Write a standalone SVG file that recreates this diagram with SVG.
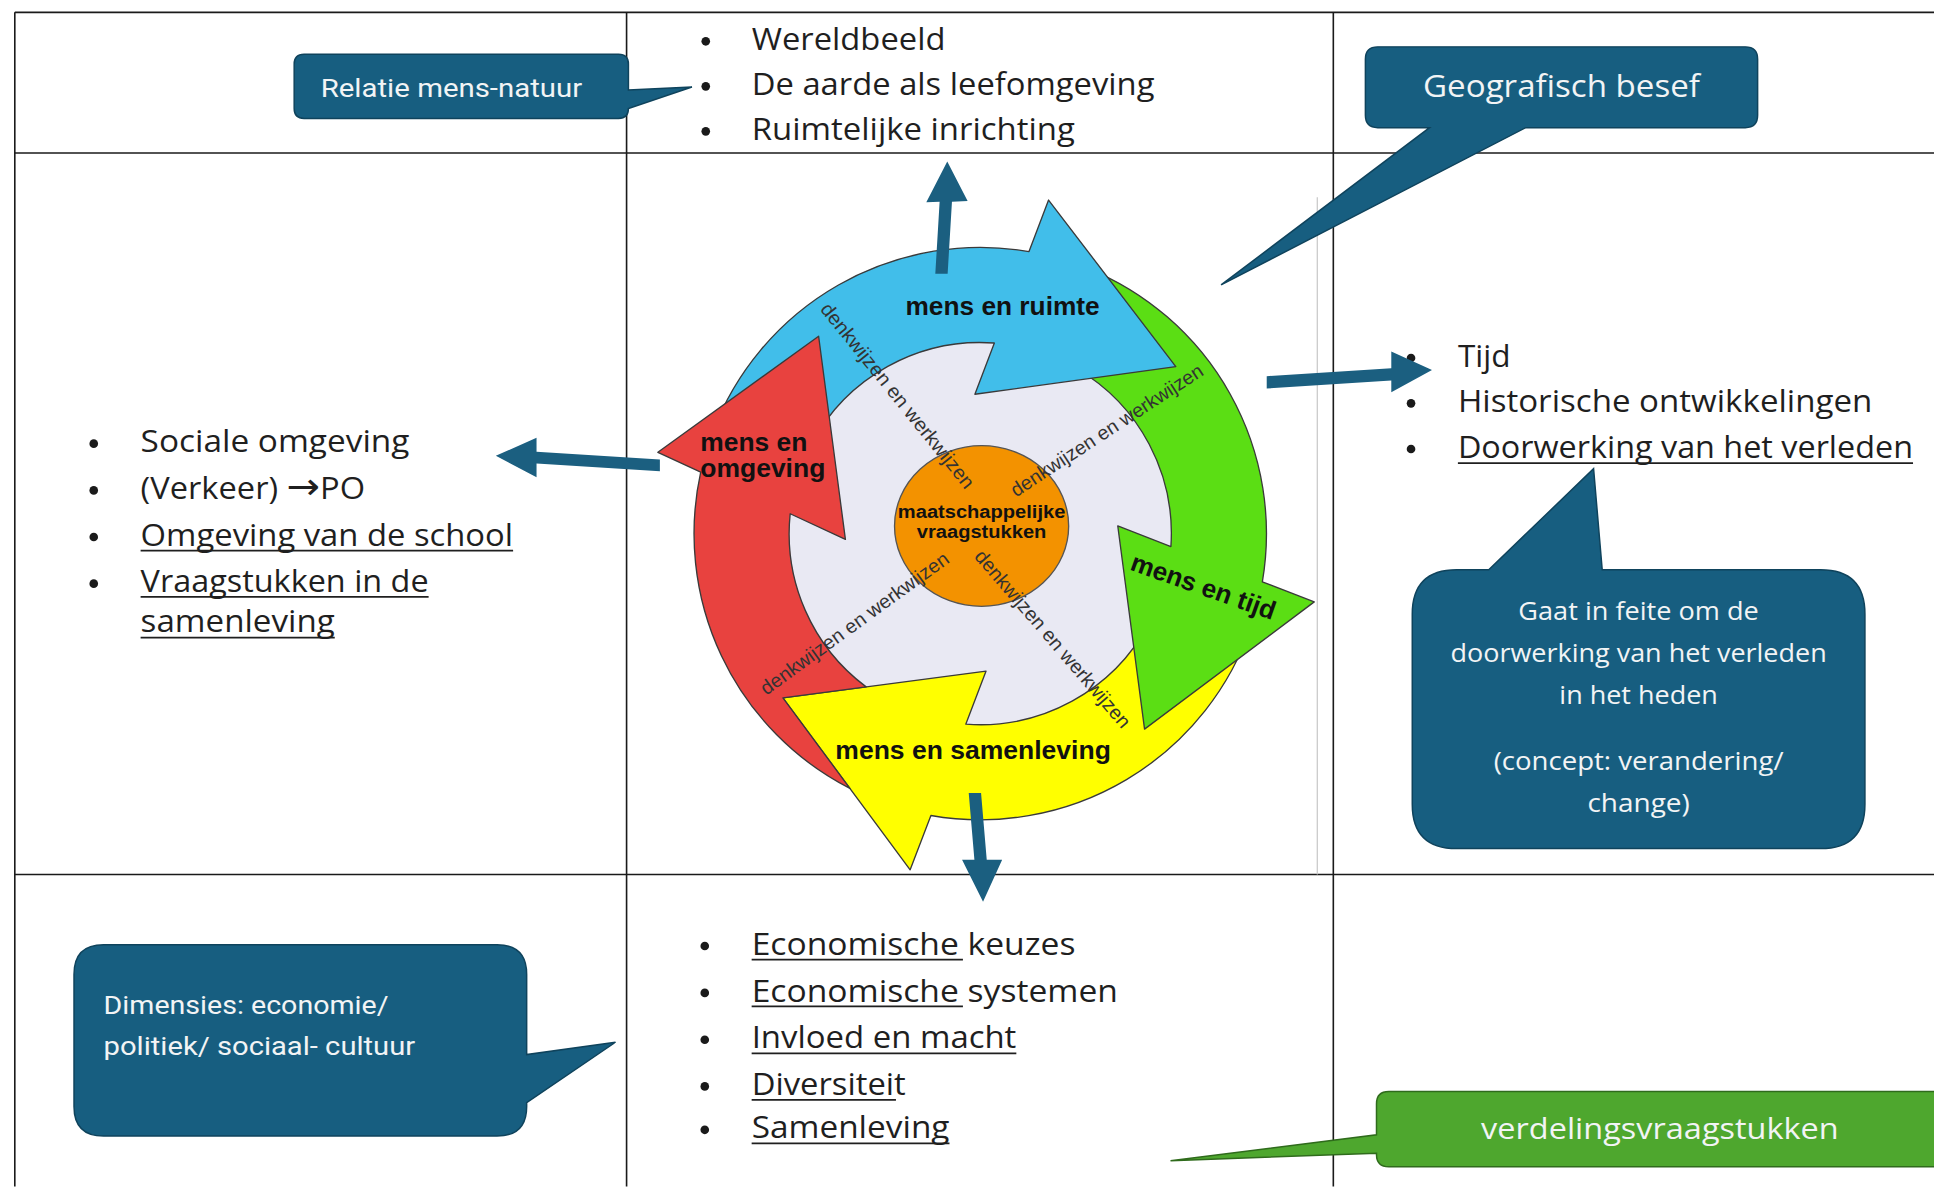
<svg xmlns="http://www.w3.org/2000/svg" width="1934" height="1187" viewBox="0 0 1934 1187">
<style>
.tl{stroke:#1a1a1a;stroke-width:1.3;fill:none}
.grey{stroke:#c8c8c8;stroke-width:1;fill:none}
.body{font-family:'Open Sans','Liberation Sans',sans-serif;font-size:24.5px;fill:#1f1f1f}
.ul{stroke:#1f1f1f;stroke-width:1.4}
.bul{fill:#1a1a1a}
.co{fill:#175E80;stroke:#0F435C;stroke-width:1.2}
.cog{fill:#4EA72E;stroke:#2F6B1C;stroke-width:1.2}
.cot{font-family:'Open Sans','Liberation Sans',sans-serif;fill:#F2F4F5}
.cond{font-family:Roboto,'Liberation Sans',sans-serif;fill:#F2F4F5;font-size:21px}
.arr{stroke:#3a3a3a;stroke-width:3;stroke-linejoin:round}
.ttl{font-family:'Liberation Sans',Arial,sans-serif;font-weight:bold;font-size:58px;fill:#111}
.dw{font-family:'Liberation Sans',Arial,sans-serif;font-size:44px;fill:#333}
.conn{fill:#1B5F80}
</style>
<rect width="1934" height="1187" fill="#ffffff"/>
<g transform="scale(1.23342)">
<g id="table">
<line class="tl" x1="12" y1="10" x2="1568" y2="10"/>
<line class="tl" x1="12" y1="124" x2="1568" y2="124"/>
<line class="tl" x1="12" y1="709" x2="1568" y2="709"/>
<line class="tl" x1="12" y1="10" x2="12" y2="962"/>
<line class="tl" x1="508" y1="10" x2="508" y2="962"/>
<line class="tl" x1="1081" y1="10" x2="1081" y2="962"/>
<line class="grey" x1="1068" y1="160" x2="1068" y2="709"/>
</g>

<g id="cycle" transform="translate(518.9,145.9) scale(0.362)">
<circle cx="762" cy="792" r="432" fill="#E9E9F3"/>
<path id="arrow-samenleving" class="arr" fill="#FFFF00" d="M1369.5,996.5 A641,641 0 0 1 651.5,1423.4 L605,1545 L320,1160 L775,1100 L729.6,1218.8 A428,428 0 0 0 1139.2,994.3 Z"/>
<path id="arrow-tijd" class="arr" fill="#5BDE14" d="M1001.1,197.3 A641,641 0 0 1 1393.8,900.1 L1510,945 L1130,1230 L1070,775 L1189,821 A428,428 0 0 0 978.6,422.8 Z"/>
<path id="arrow-ruimte" class="arr" fill="#41BEEA" d="M162.8,564.4 A641,641 0 0 1 871.2,160.4 L915,45 L1200,418 L750,480 L793.6,365.2 A428,428 0 0 0 383.7,591.7 Z"/>
<path id="arrow-omgeving" class="arr" fill="#E8423F" d="M470,1362.6 A641,641 0 0 1 135.9,654.5 L40,610 L400,350 L460,805 L336.3,747.6 A428,428 0 0 0 506.5,1135.4 L320,1160 Z"/>
<ellipse cx="765" cy="775" rx="195" ry="180" fill="#F39200" stroke="#555" stroke-width="3"/>
<text class="dw" x="577.5" y="482.5" text-anchor="middle" dominant-baseline="central" transform="rotate(51.1 577.5 482.5)" textLength="520" lengthAdjust="spacingAndGlyphs">denkwijzen en werkwijzen</text>
<text class="dw" x="1045" y="560" text-anchor="middle" dominant-baseline="central" transform="rotate(-33.1 1045 560)" textLength="505" lengthAdjust="spacingAndGlyphs">denkwijzen en werkwijzen</text>
<text class="dw" x="480" y="992.5" text-anchor="middle" dominant-baseline="central" transform="rotate(-36 480 992.5)" textLength="510" lengthAdjust="spacingAndGlyphs">denkwijzen en werkwijzen</text>
<text class="dw" x="925" y="1027.5" text-anchor="middle" dominant-baseline="central" transform="rotate(49.3 925 1027.5)" textLength="510" lengthAdjust="spacingAndGlyphs">denkwijzen en werkwijzen</text>
<text class="ttl" x="812" y="302" text-anchor="middle" textLength="435" lengthAdjust="spacingAndGlyphs">mens en ruimte</text>
<text class="ttl" x="135" y="607" textLength="240" lengthAdjust="spacingAndGlyphs">mens en</text>
<text class="ttl" x="135" y="665" textLength="280" lengthAdjust="spacingAndGlyphs">omgeving</text>
<text class="ttl" x="1262" y="910" text-anchor="middle" dominant-baseline="central" transform="rotate(19.5 1262 910)" textLength="340" lengthAdjust="spacingAndGlyphs">mens en tijd</text>
<text class="ttl" x="746" y="1296" text-anchor="middle" textLength="617" lengthAdjust="spacingAndGlyphs">mens en samenleving</text>
<text class="ttl" x="765" y="758" text-anchor="middle" style="font-size:42px" textLength="375" lengthAdjust="spacingAndGlyphs">maatschappelijke</text>
<text class="ttl" x="765" y="803" text-anchor="middle" style="font-size:42px" textLength="290" lengthAdjust="spacingAndGlyphs">vraagstukken</text>
</g>

<g id="list-ruimte">
<circle class="bul" cx="572.2" cy="33.5" r="3.5"/>
<circle class="bul" cx="572.2" cy="70" r="3.5"/>
<circle class="bul" cx="572.2" cy="106.5" r="3.5"/>
<text class="body" x="609.5" y="40.5" textLength="157" lengthAdjust="spacingAndGlyphs">Wereldbeeld</text>
<text class="body" x="609.5" y="77" textLength="326.5" lengthAdjust="spacingAndGlyphs">De aarde als leefomgeving</text>
<text class="body" x="609.5" y="113.5" textLength="262" lengthAdjust="spacingAndGlyphs">Ruimtelijke inrichting</text>
</g>

<g id="list-omgeving">
<circle class="bul" cx="76" cy="359.7" r="3.5"/>
<circle class="bul" cx="76" cy="397.6" r="3.5"/>
<circle class="bul" cx="76" cy="435.4" r="3.5"/>
<circle class="bul" cx="76" cy="473.2" r="3.5"/>
<text class="body" x="114" y="366.7" textLength="218" lengthAdjust="spacingAndGlyphs">Sociale omgeving</text>
<text class="body" x="114" y="404.6" textLength="182" lengthAdjust="spacingAndGlyphs">(Verkeer) <tspan style="font-family:'DejaVu Sans',sans-serif;font-size:30px">→</tspan>PO</text>
<text class="body" x="114" y="442.4" textLength="302" lengthAdjust="spacingAndGlyphs">Omgeving van de school</text>
<text class="body" x="114" y="480.2" textLength="233.5" lengthAdjust="spacingAndGlyphs">Vraagstukken in de</text>
<text class="body" x="114" y="512.7" textLength="157.4" lengthAdjust="spacingAndGlyphs">samenleving</text>
<line class="ul" x1="114" y1="446.5" x2="416" y2="446.5"/>
<line class="ul" x1="114" y1="484" x2="347.5" y2="484"/>
<line class="ul" x1="114" y1="517" x2="271.4" y2="517"/>
</g>

<g id="list-tijd">
<circle class="bul" cx="1144" cy="290.3" r="3.5"/>
<circle class="bul" cx="1144" cy="327" r="3.5"/>
<circle class="bul" cx="1144" cy="364" r="3.5"/>
<text class="body" x="1182" y="297.3" textLength="42.6" lengthAdjust="spacingAndGlyphs">Tijd</text>
<text class="body" x="1182" y="334" textLength="336" lengthAdjust="spacingAndGlyphs">Historische ontwikkelingen</text>
<text class="body" x="1182" y="371" textLength="369" lengthAdjust="spacingAndGlyphs">Doorwerking van het verleden</text>
<line class="ul" x1="1182" y1="375.5" x2="1551" y2="375.5"/>
</g>

<g id="list-samenleving">
<circle class="bul" cx="571.4" cy="767" r="3.5"/>
<circle class="bul" cx="571.4" cy="805" r="3.5"/>
<circle class="bul" cx="571.4" cy="843" r="3.5"/>
<circle class="bul" cx="571.4" cy="880.8" r="3.5"/>
<circle class="bul" cx="571.4" cy="916" r="3.5"/>
<text class="body" x="609.4" y="774.3" textLength="262.5" lengthAdjust="spacingAndGlyphs">Economische keuzes</text>
<text class="body" x="609.4" y="812" textLength="297" lengthAdjust="spacingAndGlyphs">Economische systemen</text>
<text class="body" x="609.4" y="850" textLength="214.6" lengthAdjust="spacingAndGlyphs">Invloed en macht</text>
<text class="body" x="609.4" y="887.8" textLength="125" lengthAdjust="spacingAndGlyphs">Diversiteit</text>
<text class="body" x="609.4" y="922.9" textLength="160.4" lengthAdjust="spacingAndGlyphs">Samenleving</text>
<line class="ul" x1="609.4" y1="778" x2="780.7" y2="778"/>
<line class="ul" x1="609.4" y1="816" x2="780.7" y2="816"/>
<line class="ul" x1="609.4" y1="854" x2="824" y2="854"/>
<line class="ul" x1="609.4" y1="891.8" x2="726.4" y2="891.8"/>
<line class="ul" x1="609.4" y1="927" x2="769.8" y2="927"/>
</g>

<g id="callout-relatie">
<path class="co" d="M246.5,44 H501.5 Q509.5,44 509.5,52 V73 L561,70.5 L509.5,88 Q509.5,96 501.5,96 H246.5 Q238.5,96 238.5,88 V52 Q238.5,44 246.5,44 Z"/>
<text class="cond" x="366" y="78.9" text-anchor="middle" textLength="212" lengthAdjust="spacingAndGlyphs">Relatie mens-natuur</text>
</g>

<g id="callout-geografisch">
<path class="co" d="M1117,38 H1415 Q1425,38 1425,48 V93.5 Q1425,103.5 1415,103.5 H1237 L990,231 L1159,103.5 H1117 Q1107,103.5 1107,93.5 V48 Q1107,38 1117,38 Z"/>
<text class="cot" x="1266" y="78.4" text-anchor="middle" style="font-size:25px" textLength="224.5" lengthAdjust="spacingAndGlyphs">Geografisch besef</text>
</g>

<g id="callout-doorwerking">
<path class="co" d="M1181,462 H1207 L1292,380 L1299,462 H1476 Q1512,462 1512,498 V652 Q1512,688 1476,688 H1181 Q1145,688 1145,652 V498 Q1145,462 1181,462 Z"/>
<text class="cot" x="1328.5" y="503" text-anchor="middle" style="font-size:20px" textLength="195" lengthAdjust="spacingAndGlyphs">Gaat in feite om de</text>
<text class="cot" x="1328.5" y="537" text-anchor="middle" style="font-size:20px" textLength="305" lengthAdjust="spacingAndGlyphs">doorwerking van het verleden</text>
<text class="cot" x="1328.5" y="571" text-anchor="middle" style="font-size:20px" textLength="128.5" lengthAdjust="spacingAndGlyphs">in het heden</text>
<text class="cot" x="1328.5" y="624" text-anchor="middle" style="font-size:20px" textLength="235" lengthAdjust="spacingAndGlyphs">(concept: verandering/</text>
<text class="cot" x="1328.5" y="658" text-anchor="middle" style="font-size:20px" textLength="83" lengthAdjust="spacingAndGlyphs">change)</text>
</g>

<g id="callout-dimensies">
<path class="co" d="M84,766 H403 Q427,766 427,790 V855 L499,845 L427,894 V897 Q427,921 403,921 H84 Q60,921 60,897 V790 Q60,766 84,766 Z"/>
<text class="cond" x="84" y="822" textLength="231" lengthAdjust="spacingAndGlyphs">Dimensies: economie/</text>
<text class="cond" x="84" y="855.4" textLength="252.6" lengthAdjust="spacingAndGlyphs">politiek/ sociaal- cultuur</text>
</g>

<g id="callout-verdeling">
<path class="cog" d="M1126,885 H1580 V946 H1126 Q1116,946 1116,936 V935 L949,941 L1116,920 V895 Q1116,885 1126,885 Z"/>
<text class="cot" x="1345.8" y="923.7" text-anchor="middle" style="font-size:23px" textLength="290" lengthAdjust="spacingAndGlyphs">verdelingsvraagstukken</text>
</g>

<g id="connectors">
<path class="conn" d="M758.3,222 L761.8,163.5 L751,164 L768,131 L784.5,163 L771.8,163.5 L768.3,222 Z"/>
<path class="conn" d="M535,372.5 L435,366.3 L435,355 L402,369.5 L435,387 L435,375.8 L535,382 Z"/>
<path class="conn" d="M1027,305 L1128,298.5 L1128,285 L1161,300 L1128,318 L1128,308.5 L1027,315 Z"/>
<path class="conn" d="M785.4,643 L795.4,643 L800,697 L812.5,697 L797,731 L780,697 L790,697 Z"/>
</g>
</g>
</svg>
